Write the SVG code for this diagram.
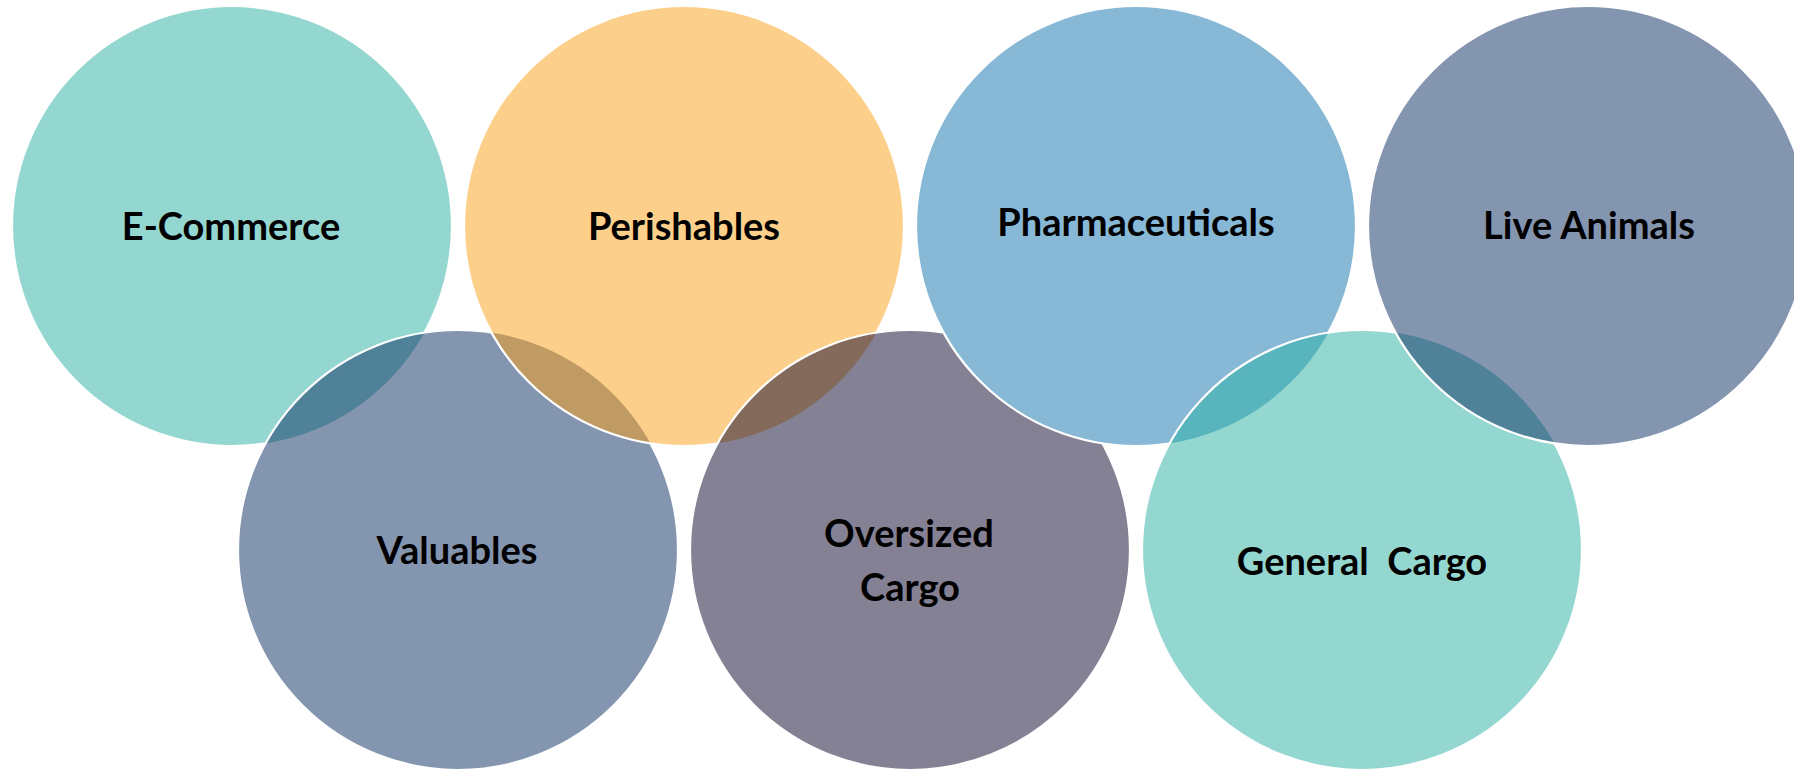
<svg xmlns="http://www.w3.org/2000/svg" width="1794" height="770" viewBox="0 0 1794 770">
  <style>
    .c { fill-opacity: 0.5; }
    .s { fill: none; stroke: #ffffff; stroke-width: 2.2; }
    .t { font-family: Lato, "Open Sans", "Liberation Sans", sans-serif; font-weight: bold; font-size: 38px; fill: #000000; text-anchor: middle; }
    .teal { fill: #29afa3; }
    .orange { fill: #f9a115; }
    .blue { fill: #0f73af; }
    .navy { fill: #092b61; }
    .plum { fill: #0b032b; }
  </style>
  <defs>
    <mask id="mVal" maskUnits="userSpaceOnUse" x="0" y="0" width="1794" height="770">
      <rect width="1794" height="770" fill="#fff"/>
      <circle cx="458" cy="550" r="220" fill="#000"/>
    </mask>
    <mask id="mPer" maskUnits="userSpaceOnUse" x="0" y="0" width="1794" height="770">
      <rect width="1794" height="770" fill="#fff"/>
      <circle cx="684" cy="226" r="220" fill="#000"/>
    </mask>
    <mask id="mOve" maskUnits="userSpaceOnUse" x="0" y="0" width="1794" height="770">
      <rect width="1794" height="770" fill="#fff"/>
      <circle cx="910" cy="550" r="220" fill="#000"/>
    </mask>
    <mask id="mPha" maskUnits="userSpaceOnUse" x="0" y="0" width="1794" height="770">
      <rect width="1794" height="770" fill="#fff"/>
      <circle cx="1136" cy="226" r="220" fill="#000"/>
    </mask>
    <mask id="mGen" maskUnits="userSpaceOnUse" x="0" y="0" width="1794" height="770">
      <rect width="1794" height="770" fill="#fff"/>
      <circle cx="1362" cy="550" r="220" fill="#000"/>
    </mask>
    <mask id="mLiv" maskUnits="userSpaceOnUse" x="0" y="0" width="1794" height="770">
      <rect width="1794" height="770" fill="#fff"/>
      <circle cx="1588" cy="226" r="220" fill="#000"/>
    </mask>
    <clipPath id="clipOve">
      <circle cx="910" cy="550" r="223"/>
    </clipPath>
  </defs>
  <rect width="1794" height="770" fill="#ffffff"/>

  <g id="connectors"></g>

  <g id="node-ecommerce">
    <circle class="c teal" cx="232" cy="226" r="220"/>
    <circle class="s" cx="232" cy="226" r="220" mask="url(#mVal)"/>
  </g>
  <g id="node-valuables">
    <circle class="c navy" cx="458" cy="550" r="220"/>
    <circle class="s" cx="458" cy="550" r="220" mask="url(#mPer)"/>
  </g>
  <g id="node-perishables">
    <circle class="c orange" cx="684" cy="226" r="220"/>
    <circle class="s" cx="684" cy="226" r="220" mask="url(#mOve)"/>
  </g>
  <g id="node-oversized">
    <circle class="c plum" cx="910" cy="550" r="220"/>
    <circle class="s" cx="910" cy="550" r="220" mask="url(#mPha)"/>
  </g>
  <g id="node-pharmaceuticals">
    <circle class="c blue" cx="1136" cy="226" r="220"/>
    <circle cx="1136" cy="226" r="220" fill="#87b9d7" clip-path="url(#clipOve)"/>
    <circle class="s" cx="1136" cy="226" r="220" mask="url(#mGen)"/>
  </g>
  <g id="node-general">
    <circle class="c teal" cx="1362" cy="550" r="220"/>
    <circle class="s" cx="1362" cy="550" r="220" mask="url(#mLiv)"/>
  </g>
  <g id="node-live">
    <circle class="c navy" cx="1588" cy="226" r="220"/>
    <circle class="s" cx="1588" cy="226" r="220"/>
  </g>

  <g id="labels">
    <text class="t" x="231" y="240">E-Commerce</text>
    <text class="t" x="684" y="240">Perishables</text>
    <text class="t" x="1136" y="236">Pharmaceuticals</text>
    <text class="t" x="1589" y="239">Live Animals</text>
    <text class="t" x="457" y="564">Valuables</text>
    <text class="t" x="909" y="547">Oversized</text>
    <text class="t" x="910" y="601">Cargo</text>
    <text class="t" x="1362" y="575" xml:space="preserve">General  Cargo</text>
  </g>
</svg>
